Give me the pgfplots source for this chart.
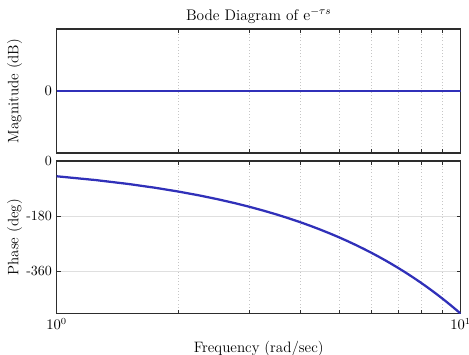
\documentclass[border=0pt]{standalone}
\usepackage{pgfplots}
\pgfplotsset{compat=1.18}
\definecolor{bodeblue}{RGB}{48,48,185}
\definecolor{axgray}{RGB}{45,45,45}
\begin{document}
\begin{tikzpicture}
\path[use as bounding box] (-42.5pt,-151.25pt) rectangle (309.25pt,114.75pt);
\begin{semilogxaxis}[name=upper, at={(0,0)}, anchor=south west,
  scale only axis, width=303pt, height=93pt,
  xmin=1, xmax=10,
  axis line style={axgray, line width=0.8pt},
  tick style={axgray, line width=0.5pt},
  major tick length=3pt, minor tick length=3pt,
  tick align=inside,
  xminorgrids=true,
  minor grid style={gray!45, dotted, line width=0.4pt},
  major grid style={gray!25, line width=0.5pt},
  xtick={1,10},
  ymin=-1, ymax=1, ytick={0},
  xticklabels={},
  tick label style={font=\fontsize{10.5}{12}\selectfont},
  ylabel={Magnitude (dB)},
  ylabel style={at={(axis description cs:-0.074,0.5)}, anchor=south, font=\fontsize{11.3}{13}\selectfont},
  title={Bode Diagram of $\mathrm{e}^{-\tau s}$},
  title style={font=\fontsize{11.5}{13}\selectfont, yshift=-5.5pt},
]
\addplot[bodeblue, line width=1.7pt] coordinates {(1,0) (10,0)};
\end{semilogxaxis}
\begin{semilogxaxis}[at={(0,-6pt)}, anchor=north west,
  scale only axis, width=303pt, height=114.5pt,
  xmin=1, xmax=10,
  axis line style={axgray, line width=0.8pt},
  tick style={axgray, line width=0.5pt},
  major tick length=3pt, minor tick length=3pt,
  tick align=inside,
  xminorgrids=true,
  minor grid style={gray!45, dotted, line width=0.4pt},
  major grid style={gray!25, line width=0.5pt},
  xtick={1,10},
  ymin=-500, ymax=0, ytick={0,-180,-360},
  yticklabels={0,-180,-360},
  tick label style={font=\fontsize{10.5}{12}\selectfont},
  ymajorgrids=true,
  ylabel={Phase (deg)},
  ylabel style={at={(axis description cs:-0.074,0.5)}, anchor=south, font=\fontsize{11.3}{13}\selectfont},
  xlabel={Frequency (rad/sec)},
  xlabel style={font=\fontsize{11.3}{13}\selectfont, yshift=-2pt},
]
\addplot[bodeblue, line width=1.7pt] coordinates {
(1,-50) (1.25,-62.5) (1.5,-75) (1.75,-87.5) (2,-100) (2.25,-112.5) (2.5,-125) (2.75,-137.5)
(3,-150) (3.25,-162.5) (3.5,-175) (3.75,-187.5) (4,-200) (4.25,-212.5) (4.5,-225) (4.75,-237.5)
(5,-250) (5.25,-262.5) (5.5,-275) (5.75,-287.5) (6,-300) (6.25,-312.5) (6.5,-325) (6.75,-337.5)
(7,-350) (7.25,-362.5) (7.5,-375) (7.75,-387.5) (8,-400) (8.25,-412.5) (8.5,-425) (8.75,-437.5)
(9,-450) (9.25,-462.5) (9.5,-475) (9.75,-487.5) (10,-500)
};
\end{semilogxaxis}
\end{tikzpicture}
\end{document}
